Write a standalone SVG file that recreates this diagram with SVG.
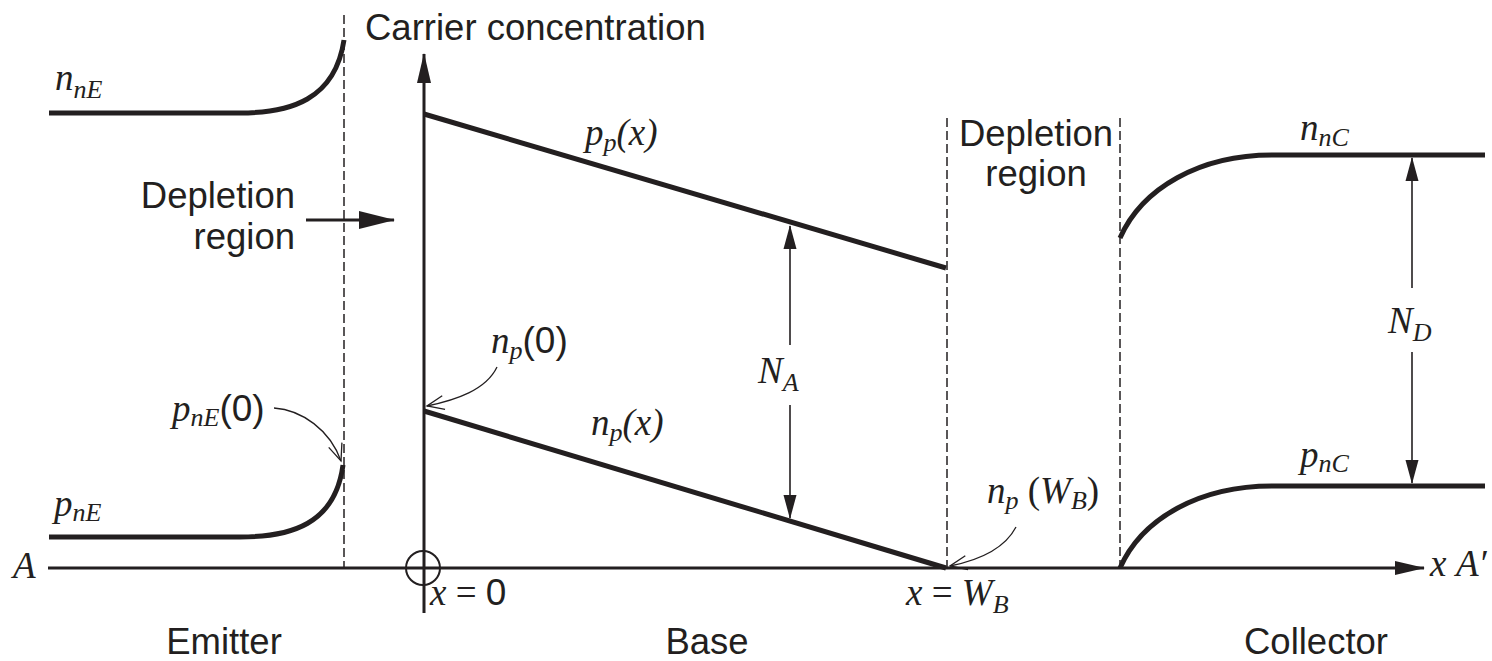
<svg xmlns="http://www.w3.org/2000/svg" width="1492" height="661" viewBox="0 0 1492 661">
<style>
.sans{font-family:"Liberation Sans",Arial,sans-serif;font-size:36.5px;fill:#231f20}
.m{font-family:"Liberation Serif","Times New Roman",serif;font-style:italic;font-size:37px;fill:#231f20}
.up{font-style:normal}
.sf{font-family:"Liberation Sans",Arial,sans-serif;font-style:normal}
.sub{font-size:26px}
.thick{fill:none;stroke:#231f20;stroke-width:5}
.axis{fill:none;stroke:#231f20;stroke-width:3}
.dash{fill:none;stroke:#231f20;stroke-width:1.5;stroke-dasharray:9,4}
.thin{fill:none;stroke:#231f20;stroke-width:1.6}
.lead{fill:none;stroke:#231f20;stroke-width:1.3}
</style>
<defs>
<marker id="open" viewBox="0 0 20 20" refX="18" refY="10" markerWidth="20" markerHeight="20" markerUnits="userSpaceOnUse" orient="auto">
<path d="M1,3 L18,10 L1,17" fill="none" stroke="#231f20" stroke-width="1.3"/>
</marker>
<marker id="fill" viewBox="0 0 24 14" refX="23" refY="7" markerWidth="24" markerHeight="14" markerUnits="userSpaceOnUse" orient="auto">
<path d="M0,0.5 L24,7 L0,13.5 Z" fill="#231f20"/>
</marker>
<marker id="big" viewBox="0 0 30 14" refX="29" refY="7" markerWidth="30" markerHeight="14" markerUnits="userSpaceOnUse" orient="auto">
<path d="M0,0 L30,7 L0,14 Z" fill="#231f20"/>
</marker>
<marker id="huge" viewBox="0 0 36 18" refX="35" refY="9" markerWidth="36" markerHeight="18" markerUnits="userSpaceOnUse" orient="auto">
<path d="M0,0 L36,9 L0,18 Z" fill="#231f20"/>
</marker>
</defs>

<g id="axes">
<line class="axis" x1="48" y1="568" x2="1424" y2="568" marker-end="url(#big)"/>
<line class="axis" x1="424" y1="613" x2="424" y2="54" marker-end="url(#big)"/>
<circle cx="423" cy="568" r="17" fill="none" stroke="#231f20" stroke-width="2"/>
<text class="sans" x="365" y="40">Carrier concentration</text>
<text class="m" x="13" y="578">A</text>
<text class="m" x="1430" y="576">x</text>
<text class="m" x="1456" y="576">A′</text>
<text class="m" x="430" y="605">x <tspan class="up">=</tspan> <tspan class="sf">0</tspan></text>
<text class="m" x="906" y="605">x <tspan class="up">=</tspan> W<tspan class="sub" dy="8">B</tspan></text>
</g>

<g id="boundaries">
<line class="dash" x1="344" y1="15" x2="344" y2="568"/>
<line class="dash" x1="947" y1="118" x2="947" y2="568"/>
<line class="dash" x1="1120" y1="118" x2="1120" y2="568"/>
</g>

<g id="emitter">
<path class="thick" d="M49,113 L240,113 C290,113 335,100 344,40"/>
<path class="thick" d="M49,537 L240,537 C290,537 335,525 343,465"/>
<text class="m" x="55" y="90">n<tspan class="sub" dy="8">nE</tspan></text>
<text class="m" x="54" y="516">p<tspan class="sub" dy="5">nE</tspan></text>
<text class="m" x="172" y="421">p<tspan class="sub" dy="5">nE</tspan><tspan class="sf" dy="-5">(0)</tspan></text>
<text class="sans" x="295" y="208" text-anchor="end">Depletion</text>
<text class="sans" x="295" y="249" text-anchor="end">region</text>
<text class="sans" x="224" y="654" text-anchor="middle">Emitter</text>
</g>

<g id="base">
<path class="thick" d="M424,114 L946,268"/>
<path class="thick" d="M424,411 L946,568"/>
<text class="m" x="585" y="145">p<tspan class="sub" dy="6">p</tspan><tspan dy="-6">(x)</tspan></text>
<text class="m" x="591" y="435">n<tspan class="sub" dy="6">p</tspan><tspan dy="-6">(x)</tspan></text>
<text class="m" x="491" y="353">n<tspan class="sub" dy="6">p</tspan><tspan class="sf" dy="-6">(0)</tspan></text>
<text class="m" x="758" y="383">N<tspan class="sub" dy="8">A</tspan></text>
<text class="sans" x="707" y="654" text-anchor="middle">Base</text>
</g>

<g id="collector">
<path class="thick" d="M1120,238 C1142,188 1200,155 1272,155 L1485,155"/>
<path class="thick" d="M1120,568 C1142,518 1200,486 1272,486 L1485,486"/>
<text class="m" x="1300" y="140">n<tspan class="sub" dy="6">nC</tspan></text>
<text class="m" x="1300" y="467">p<tspan class="sub" dy="5">nC</tspan></text>
<text class="m" x="1388" y="333">N<tspan class="sub" dy="8">D</tspan></text>
<text class="sans" x="1036" y="146" text-anchor="middle">Depletion</text>
<text class="sans" x="1036" y="186" text-anchor="middle">region</text>
<text class="m" x="987" y="503">n<tspan class="sub" dy="6">p</tspan><tspan class="up" dy="-6"> (</tspan>W<tspan class="sub" dy="6">B</tspan><tspan class="up" dy="-6">)</tspan></text>
<text class="sans" x="1316" y="654" text-anchor="middle">Collector</text>
</g>

<g id="connectors">
<line class="axis" x1="306" y1="220" x2="394" y2="220" stroke-width="4" marker-end="url(#huge)"/>
<line class="thin" x1="790" y1="345" x2="790" y2="226" marker-end="url(#fill)"/>
<line class="thin" x1="790" y1="405" x2="790" y2="518" marker-end="url(#fill)"/>
<line class="thin" x1="1412" y1="288" x2="1412" y2="158" marker-end="url(#fill)"/>
<line class="thin" x1="1412" y1="352" x2="1412" y2="483" marker-end="url(#fill)"/>
<path class="lead" d="M274,408 C302,410 330,430 341,461" marker-end="url(#open)"/>
<path class="lead" d="M497,367 C486,390 456,400 427,406" marker-end="url(#open)"/>
<path class="lead" d="M1016,527 C1005,548 980,560 950,566" marker-end="url(#open)"/>
</g>
</svg>
